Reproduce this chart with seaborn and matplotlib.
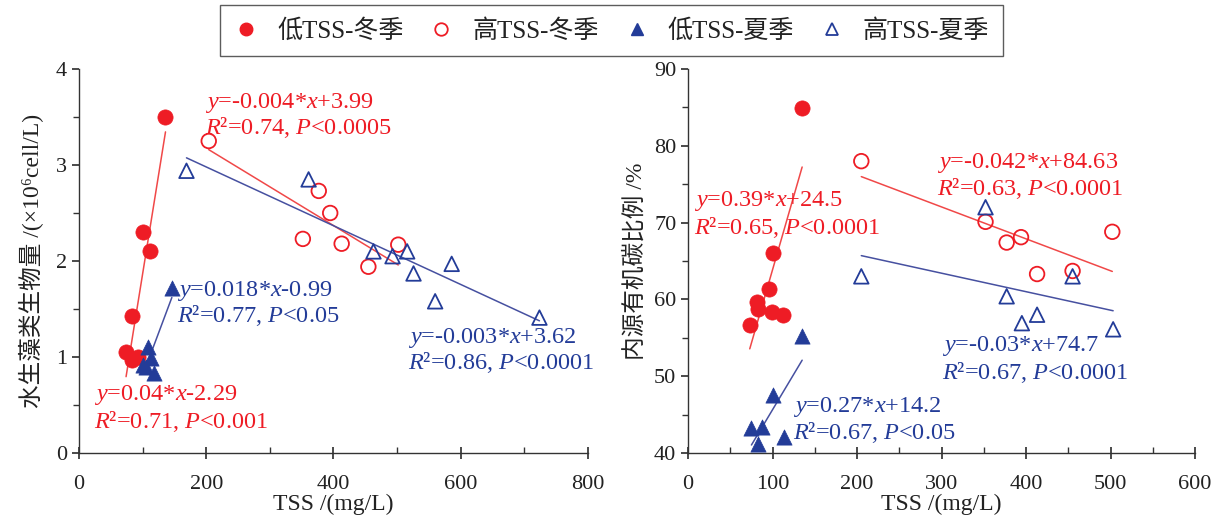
import matplotlib
matplotlib.use("Agg")
import matplotlib.pyplot as plt
from matplotlib.lines import Line2D
from matplotlib.ticker import MultipleLocator
import seaborn as sns

sns.set_theme(style="white")
plt.rcParams['font.family'] = ['Liberation Serif', 'Noto Sans CJK SC', 'DejaVu Serif']
plt.rcParams.update({
    'mathtext.fontset': 'custom',
    'mathtext.rm': 'Liberation Serif',
    'mathtext.it': 'Liberation Serif:italic',
})

RED = '#ee1c25'
BLUE = '#233c98'
RED_LINE = '#f04848'
BLUE_LINE = '#4650a0'
GREY = '#333333'

labels = ['低TSS-冬季', '高TSS-冬季', '低TSS-夏季', '高TSS-夏季']

# left panel: algal biomass vs TSS
a_lw_x = [74, 83, 93, 101, 112, 136, 84]
a_lw_y = [1.05, 0.97, 1.00, 2.30, 2.10, 3.50, 1.43]
a_hw_x = [204, 377, 395, 352, 413, 502, 455]
a_hw_y = [3.25, 2.73, 2.50, 2.23, 2.18, 2.17, 1.94]
a_ls_x = [108, 113, 101, 106, 118, 146]
a_ls_y = [1.10, 0.99, 0.92, 0.90, 0.83, 1.72]
a_hs_x = [169, 361, 463, 493, 516, 526, 586, 560, 724]
a_hs_y = [2.94, 2.85, 2.10, 2.05, 2.10, 1.87, 1.97, 1.58, 1.41]

# right panel: autochthonous organic carbon vs TSS
b_lw_x = [135, 101, 96, 82, 83, 99, 112, 73]
b_lw_y = [84.9, 66.0, 61.4, 59.6, 58.8, 58.4, 58.0, 56.6]
b_hw_x = [205, 352, 377, 394, 413, 455, 502]
b_hw_y = [78.0, 70.1, 67.4, 68.1, 63.3, 63.7, 68.8]
b_ls_x = [135, 101, 75, 87, 83, 113]
b_ls_y = [55.2, 47.6, 43.2, 43.4, 41.2, 42.1]
b_hs_x = [205, 352, 377, 395, 413, 455, 503]
b_hs_y = [63.0, 72.0, 60.4, 56.9, 58.0, 63.0, 56.1]

a_eq = [
    (r'$y$=-0.004*$x$+3.99', r'$R$²=0.74, $P$<0.0005', 198, 3.65, 3.39, RED),
    (r'$y$=0.018*$x$-0.99', r'$R$²=0.77, $P$<0.05', 154, 1.69, 1.43, BLUE),
    (r'$y$=-0.003*$x$+3.62', r'$R$²=0.86, $P$<0.0001', 517, 1.20, 0.94, BLUE),
    (r'$y$=0.04*$x$-2.29', r'$R$²=0.71, $P$<0.001', 24, 0.60, 0.33, RED),
]
b_eq = [
    (r'$y$=0.39*$x$+24.5', r'$R$²=0.65, $P$<0.0001', 7, 72.8, 69.4, RED),
    (r'$y$=-0.042*$x$+84.63', r'$R$²=0.63, $P$<0.0001', 294, 77.8, 74.4, RED),
    (r'$y$=-0.03*$x$+74.7', r'$R$²=0.67, $P$<0.0001', 301, 53.9, 50.5, BLUE),
    (r'$y$=0.27*$x$+14.2', r'$R$²=0.67, $P$<0.05', 124, 46.0, 42.6, BLUE),
]

fig = plt.figure(figsize=(12.23, 5.23), dpi=100)
ax1 = fig.add_axes([0.0646, 0.134, 0.416, 0.734])
ax2 = fig.add_axes([0.5626, 0.134, 0.4146, 0.734])


def draw_panel(ax, lw, hw, ls, hs, eqs):
    groups = [
        (lw, RED, 'o', True, RED_LINE),
        (hw, RED, 'o', False, RED_LINE),
        (ls, BLUE, '^', True, BLUE_LINE),
        (hs, BLUE, '^', False, BLUE_LINE),
    ]
    for (xs, ys), col, mk, filled, lcol in groups:
        sns.regplot(x=xs, y=ys, ax=ax, scatter=False, ci=None, truncate=True,
                    line_kws=dict(color=lcol, lw=1.1, zorder=2))
        if filled:
            sns.scatterplot(x=xs, y=ys, ax=ax, marker=mk, s=120, color=col,
                            edgecolor=col, linewidth=0.5, zorder=3)
        else:
            sns.scatterplot(x=xs, y=ys, ax=ax, marker=mk, s=110, facecolors='none',
                            edgecolor=col, linewidth=1.3, zorder=3)
    for l1, l2, tx, ty1, ty2, col in eqs:
        ax.text(tx, ty1, l1, color=col, fontsize=17.5, va='center', ha='left')
        ax.text(tx, ty2, l2, color=col, fontsize=17.5, va='center', ha='left')
    for sp in ['top', 'right']:
        ax.spines[sp].set_visible(False)
    for sp in ['left', 'bottom']:
        ax.spines[sp].set_color(GREY)
        ax.spines[sp].set_linewidth(1.0)
    ax.tick_params(axis='y', which='both', direction='out', left=True, color=GREY,
                   labelsize=16, labelcolor='#222222')
    ax.tick_params(axis='y', which='major', length=5)
    ax.tick_params(axis='y', which='minor', length=4)
    ax.tick_params(axis='x', which='both', bottom=True, color=GREY,
                   labelsize=16, labelcolor='#222222', pad=12)
    ax.tick_params(axis='x', which='major', direction='inout', length=8)
    ax.tick_params(axis='x', which='minor', direction='in', length=4)
    ax.set_xlabel('TSS /(mg/L)', fontsize=17, color='#222222', labelpad=0)


draw_panel(ax1, (a_lw_x, a_lw_y), (a_hw_x, a_hw_y), (a_ls_x, a_ls_y), (a_hs_x, a_hs_y), a_eq)
ax1.set_xlim(0, 800)
ax1.set_ylim(0, 4)
ax1.xaxis.set_major_locator(MultipleLocator(200))
ax1.xaxis.set_minor_locator(MultipleLocator(100))
ax1.yaxis.set_major_locator(MultipleLocator(1))
ax1.yaxis.set_minor_locator(MultipleLocator(0.5))
ax1.set_ylabel('水生藻类生物量 /(×10⁶cell/L)', fontsize=17, color='#222222', labelpad=9)

draw_panel(ax2, (b_lw_x, b_lw_y), (b_hw_x, b_hw_y), (b_ls_x, b_ls_y), (b_hs_x, b_hs_y), b_eq)
ax2.set_xlim(0, 600)
ax2.set_ylim(40, 90)
ax2.xaxis.set_major_locator(MultipleLocator(100))
ax2.xaxis.set_minor_locator(MultipleLocator(50))
ax2.yaxis.set_major_locator(MultipleLocator(10))
ax2.yaxis.set_minor_locator(MultipleLocator(5))
ax2.set_ylabel('内源有机碳比例 /%', fontsize=17, color='#222222', labelpad=5)

handles = [
    Line2D([], [], ls='none', marker='o', ms=9, color=RED),
    Line2D([], [], ls='none', marker='o', ms=9, mfc='none', mec=RED, mew=1.3),
    Line2D([], [], ls='none', marker='^', ms=9, color=BLUE),
    Line2D([], [], ls='none', marker='^', ms=9, mfc='none', mec=BLUE, mew=1.3),
]
leg = fig.legend(handles, labels, loc='upper center', bbox_to_anchor=(0.5, 0.99), ncol=4,
                 fontsize=18, frameon=True, fancybox=False, edgecolor='#333333',
                 handlelength=1.0, handletextpad=0.75, columnspacing=1.0,
                 borderpad=0.55, borderaxespad=0)
leg.get_frame().set_linewidth(1.0)
for t in leg.get_texts():
    t.set_color('#222222')

fig.savefig('out.png', dpi=100)
